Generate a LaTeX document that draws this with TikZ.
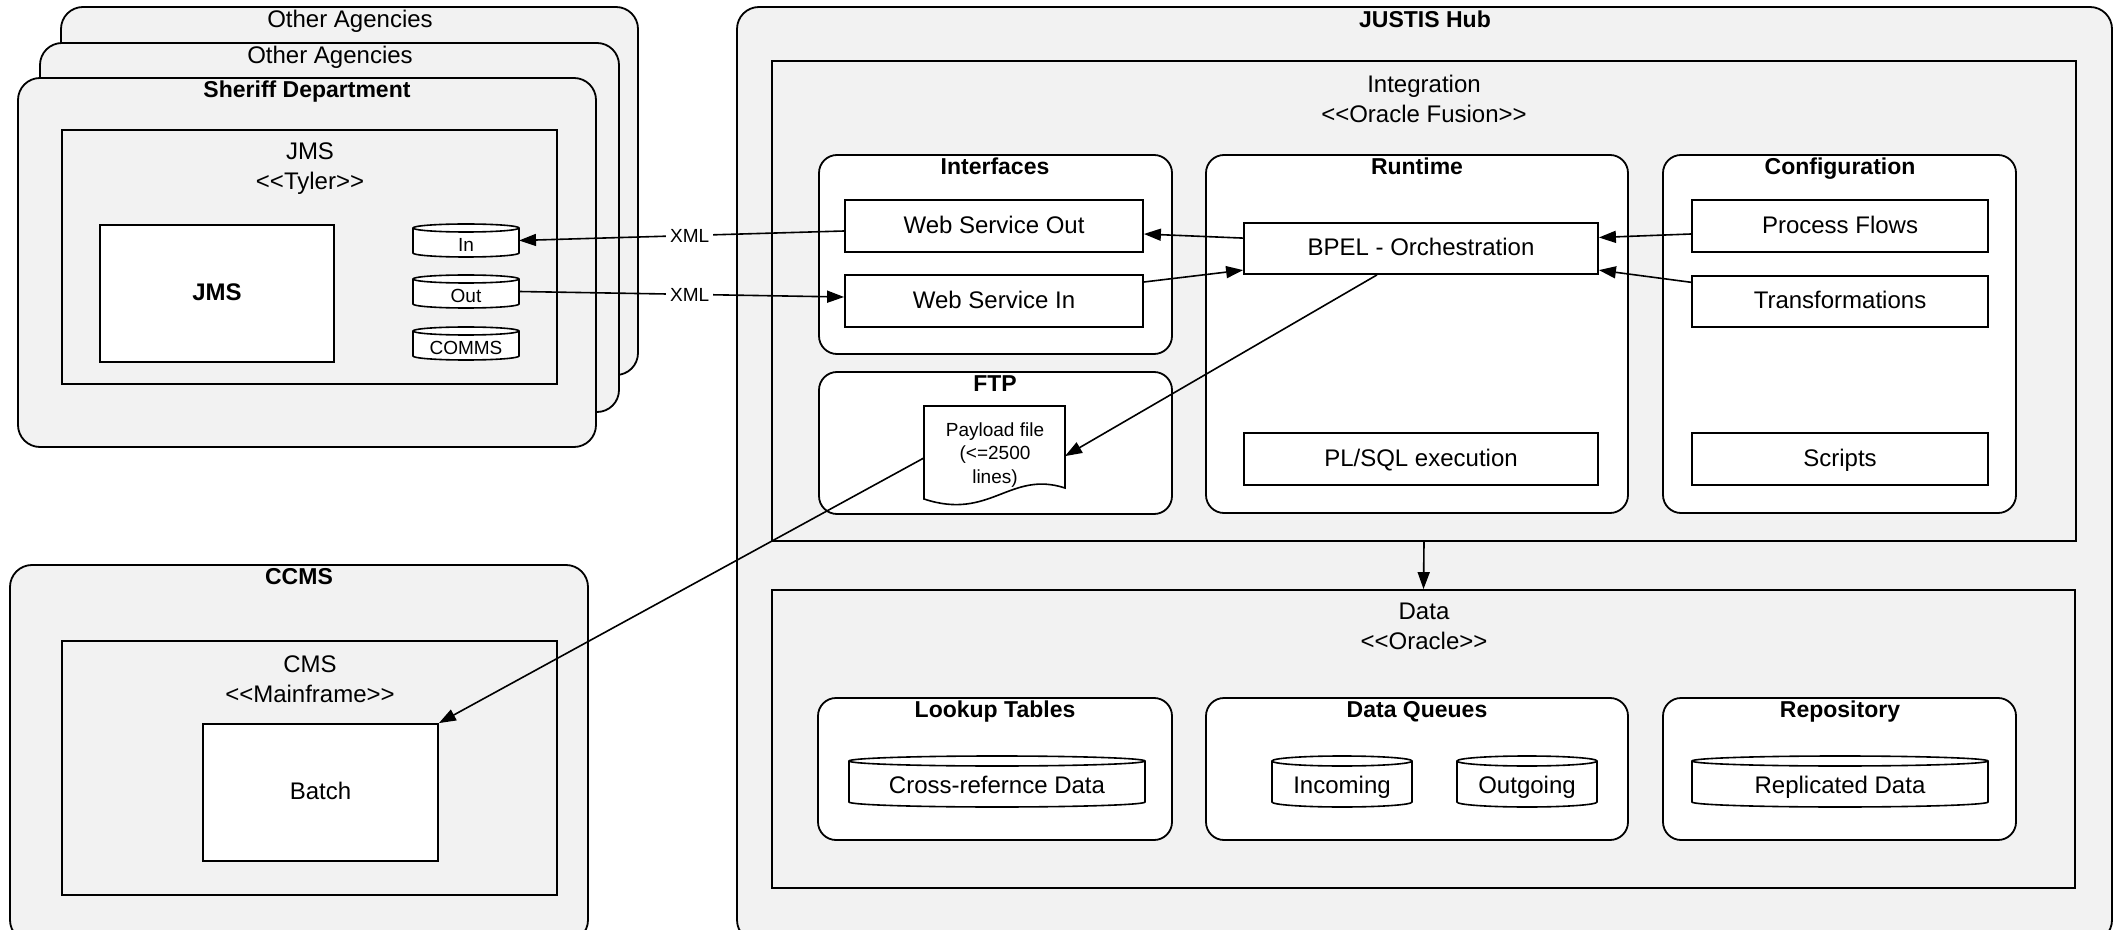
\documentclass[tikz,border=0pt]{standalone}
\usepackage{fontspec}
\setmainfont{Liberation Sans}
\usetikzlibrary{fit,arrows.meta,calc}
\definecolor{panelgray}{RGB}{242,242,242}

\tikzset{
  frame/.style={draw, line width=0.9pt, inner sep=0pt},
  outerbox/.style={frame, fill=panelgray, rounded corners=11pt},
  layerbox/.style={frame, fill=panelgray},
  groupbox/.style={frame, fill=white, rounded corners=9pt},
  itembox/.style={frame, fill=white},
  anchorbox/.style={inner sep=0pt, outer sep=0pt},
  title/.style={font=\bfseries\fontsize{11.5}{13}\selectfont, inner sep=0pt, text height=0.72em, text depth=0pt},
  lbl/.style={font=\fontsize{12}{13.5}\selectfont, inner sep=0pt, text height=0.72em, text depth=0pt},
  boldlbl/.style={lbl, font=\bfseries\fontsize{12}{13.5}\selectfont},
  lbltwo/.style={font=\fontsize{12}{14}\selectfont, align=center, inner sep=0pt},
  small/.style={font=\fontsize{9.5}{11.8}\selectfont, align=center, inner sep=0pt},
  smallone/.style={small, text height=0.72em, text depth=0pt},
  arr/.style={line width=0.8pt, -{Triangle[length=8.5pt,width=6pt]}},
  xmltag/.style={smallone, fill=white, inner sep=2pt},
  drumline/.style={line width=0.8pt},
}

% stereotype brackets, kept apart so the font does not merge them into guillemets
\newcommand\stl{<\kern0pt<}
\newcommand\str{>\kern0pt>}

% cylinder: name, x1, y1, x2, y2, text style, text
\newcommand\drum[7]{%
  \node[anchorbox, fit={(#2,#3) (#4,#5)}] (#1) {};
  \pgfmathsetmacro\drumrx{(#4-#2)/4}%
  \filldraw[drumline, fill=white] (#2,#3+\drumry) -- (#2,#5-\drumry)
     arc[start angle=180, end angle=360, x radius=\drumrx pt, y radius=\drumry*0.5pt]
     -- (#4,#3+\drumry)
     arc[start angle=0, end angle=180, x radius=\drumrx pt, y radius=\drumry*0.5pt] -- cycle;
  \draw[drumline] (#2,#3+\drumry)
     arc[start angle=180, end angle=360, x radius=\drumrx pt, y radius=\drumry*0.5pt];
  \node[#6] (#1-text) at ($(#1.center)+(0,-\drumry*0.5pt)$) {#7};
}

\begin{document}
\begin{tikzpicture}[x=0.5pt, y=-0.5pt]
\useasboundingbox (0,0) rectangle (2115,930);
\fill[white] (0,0) rectangle (2115,930);

% ---------- agencies stack ----------
\node[outerbox, fit={(61,7) (638,375)}] (oa2) {};
\node[lbl] (oa2-title) at (350,20) {Other Agencies};
\node[outerbox, fit={(40,43) (619,412)}] (oa1) {};
\node[lbl] (oa1-title) at (330,56) {Other Agencies};
\node[outerbox, fit={(18,78) (596,447)}] (sheriff) {};
\node[title] (sheriff-title) at (307,90) {Sheriff Department};

\node[layerbox, fit={(62,130) (557,384)}] (jms) {};
\node[lbltwo] (jms-title) at (310,169) {JMS\\[1pt]\stl Tyler\str};
\node[itembox, fit={(100,225) (334,362)},
      label={[boldlbl, name=jmsapp-text]center:JMS}] (jmsapp) {};

\def\drumry{4}
\drum{in}{413}{224}{519}{257}{smallone}{In}
\drum{out}{413}{275}{519}{308}{smallone}{Out}
\drum{comms}{413}{327}{519}{360}{smallone}{COMMS}

% ---------- CCMS ----------
\node[outerbox, fit={(10,565) (588,942)}] (ccms) {};
\node[title] (ccms-title) at (299,577) {CCMS};
\node[layerbox, fit={(62,641) (557,895)}] (cms) {};
\node[lbltwo] (cms-title) at (310,679) {CMS\\[1pt]\stl Mainframe\str};
\node[itembox, fit={(203,724) (438,861)},
      label={[lbl, name=batch-text]center:Batch}] (batch) {};

% ---------- JUSTIS Hub ----------
\node[outerbox, fit={(737,7) (2112,942)}] (justis) {};
\node[title] (justis-title) at (1425,20) {JUSTIS Hub};

\node[layerbox, fit={(772,61) (2076,541)}] (integration) {};
\node[lbltwo] (integration-title) at (1424,99) {Integration\\[1pt]\stl Oracle Fusion\str};

\node[groupbox, fit={(819,155) (1172,354)}] (interfaces) {};
\node[title] (interfaces-title) at (995,167) {Interfaces};
\node[itembox, fit={(845,200) (1143,252)},
      label={[lbl, name=wso-text]center:Web Service Out}] (wso) {};
\node[itembox, fit={(845,275) (1143,327)},
      label={[lbl, name=wsi-text]center:Web Service In}] (wsi) {};

\node[groupbox, fit={(819,372) (1172,514)}] (ftp) {};
\node[title] (ftp-title) at (995,384) {FTP};
\node[anchorbox, fit={(924,406) (1065,499)}] (payload) {};
\filldraw[line width=0.8pt, fill=white] (924,406) -- (1065,406) -- (1065,488)
   .. controls (1010,470) and (990,521) .. (924,499) -- cycle;
\node[small] (payload-text) at (995,455) {Payload file\\(<=2500\\lines)};

\node[groupbox, fit={(1206,155) (1628,513)}] (runtime) {};
\node[title] (runtime-title) at (1417,167) {Runtime};
\node[itembox, fit={(1244,223) (1598,274)},
      label={[lbl, name=bpel-text]center:BPEL - Orchestration}] (bpel) {};
\node[itembox, fit={(1244,433) (1598,485)},
      label={[lbl, name=plsql-text]center:PL/SQL execution}] (plsql) {};

\node[groupbox, fit={(1663,155) (2016,513)}] (config) {};
\node[title] (config-title) at (1840,167) {Configuration};
\node[itembox, fit={(1692,200) (1988,252)},
      label={[lbl, name=pf-text]center:Process Flows}] (pf) {};
\node[itembox, fit={(1692,276) (1988,327)},
      label={[lbl, name=trans-text]center:Transformations}] (trans) {};
\node[itembox, fit={(1692,433) (1988,485)},
      label={[lbl, name=scripts-text]center:Scripts}] (scripts) {};

\node[layerbox, fit={(772,590) (2075,888)}] (data) {};
\node[lbltwo] (data-title) at (1424,626) {Data\\[1pt]\stl Oracle\str};

\node[groupbox, fit={(818,698) (1172,840)}] (lookup) {};
\node[title] (lookup-title) at (995,710) {Lookup Tables};
\node[groupbox, fit={(1206,698) (1628,840)}] (queues) {};
\node[title] (queues-title) at (1417,710) {Data Queues};
\node[groupbox, fit={(1663,698) (2016,840)}] (repo) {};
\node[title] (repo-title) at (1840,710) {Repository};

\def\drumry{5}
\drum{xref}{849}{756}{1145}{807}{lbl}{Cross-refernce Data}
\drum{incoming}{1272}{756}{1412}{807}{lbl}{Incoming}
\drum{outgoing}{1457}{756}{1597}{807}{lbl}{Outgoing}
\drum{replicated}{1692}{756}{1988}{807}{lbl}{Replicated Data}

% ---------- connectors ----------
\draw[arr] ([yshift=-2.5pt]wso.west) -- node[xmltag, pos=0.475] (xml-in) {XML} (in.east);
\draw[arr] (out.east) -- node[xmltag, pos=0.525] (xml-out) {XML} ([yshift=2pt]wsi.west);
\draw[arr] ([yshift=5.2pt]bpel.west) -- ([yshift=-4pt]wso.east);
\draw[arr] ([yshift=9.5pt]wsi.east) -- ([yshift=-10.8pt]bpel.west);
\draw[arr] ([yshift=-4pt]pf.west) -- ([yshift=5.5pt]bpel.east);
\draw[arr] ([yshift=9.6pt]trans.west) -- ([yshift=-10.8pt]bpel.east);
\draw[arr] ([xshift=-22pt]bpel.south) -- ([yshift=-1.8pt]payload.east);
\draw[arr] ([yshift=-2.7pt]payload.west) -- (batch.north east);
\draw[arr] (integration.south) -- (data.north);
\end{tikzpicture}
\end{document}
